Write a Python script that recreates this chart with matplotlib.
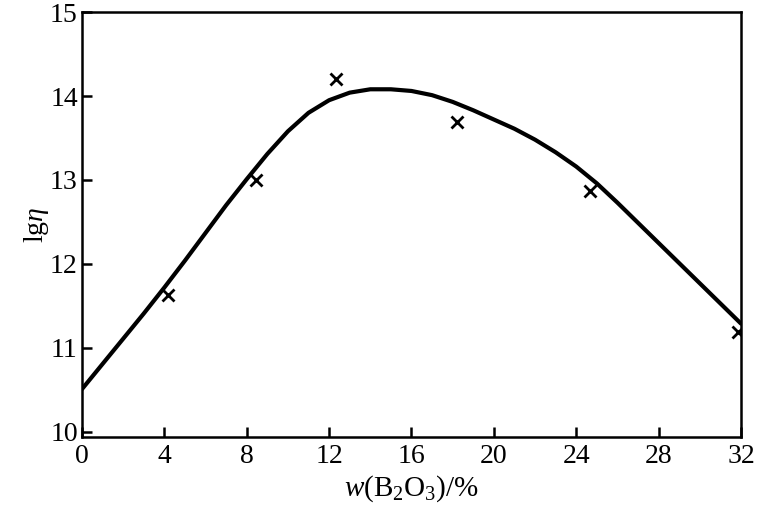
import matplotlib

matplotlib.use("Agg")
import matplotlib.pyplot as plt

# measured points (crosses)
sample_x = [4.2, 8.45, 12.35, 18.2, 24.65, 31.85]
sample_y = [11.63, 13.00, 14.20, 13.69, 12.87, 11.19]

# fitted curve, one value per 1 % step
curve_x = list(range(0, 33))
curve_y = [
    10.51, 10.81, 11.11, 11.41, 11.72, 12.04, 12.37, 12.70, 13.01, 13.31,
    13.58, 13.80, 13.95, 14.04, 14.08, 14.08, 14.06, 14.01, 13.93, 13.83,
    13.72, 13.61, 13.48, 13.33, 13.16, 12.96, 12.73, 12.49, 12.25, 12.01,
    11.77, 11.53, 11.29,
]

x_ticks = [0, 4, 8, 12, 16, 20, 24, 28, 32]
y_ticks = [10, 11, 12, 13, 14, 15]

plt.rcParams["font.family"] = ["Liberation Serif", "DejaVu Serif"]
plt.rcParams["mathtext.fontset"] = "custom"
plt.rcParams["mathtext.rm"] = "Liberation Serif"
plt.rcParams["mathtext.it"] = "Liberation Serif:italic"

fig = plt.figure(figsize=(7.62, 5.27), dpi=100)
ax = fig.add_axes([0.1076, 0.1708, 0.8648, 0.8064])

ax.plot(curve_x, curve_y, color="black", linewidth=3.0,
        solid_capstyle="round", solid_joinstyle="round")
ax.plot(sample_x, sample_y, linestyle="none", marker="x", color="black",
        markersize=9, markeredgewidth=2.0)

ax.set_xlim(0, 32)
ax.set_ylim(9.94, 15)
ax.set_xticks(x_ticks)
ax.set_yticks(y_ticks)
ax.set_xticklabels([str(v) for v in x_ticks])
ax.set_yticklabels([str(v) for v in y_ticks])

for spine in ax.spines.values():
    spine.set_linewidth(1.8)

ax.tick_params(axis="both", direction="in", length=7, width=1.8, labelsize=20)
ax.tick_params(axis="x", pad=5)
ax.tick_params(axis="y", pad=3)

ax.set_xlabel(r"$\mathit{w}(\mathrm{B_2O_3})/\%$", fontsize=21, labelpad=3)
ax.set_ylabel(r"$\mathrm{lg}\mathit{\eta}$", fontsize=20, labelpad=-1)

fig.savefig("out.png", dpi=100)
